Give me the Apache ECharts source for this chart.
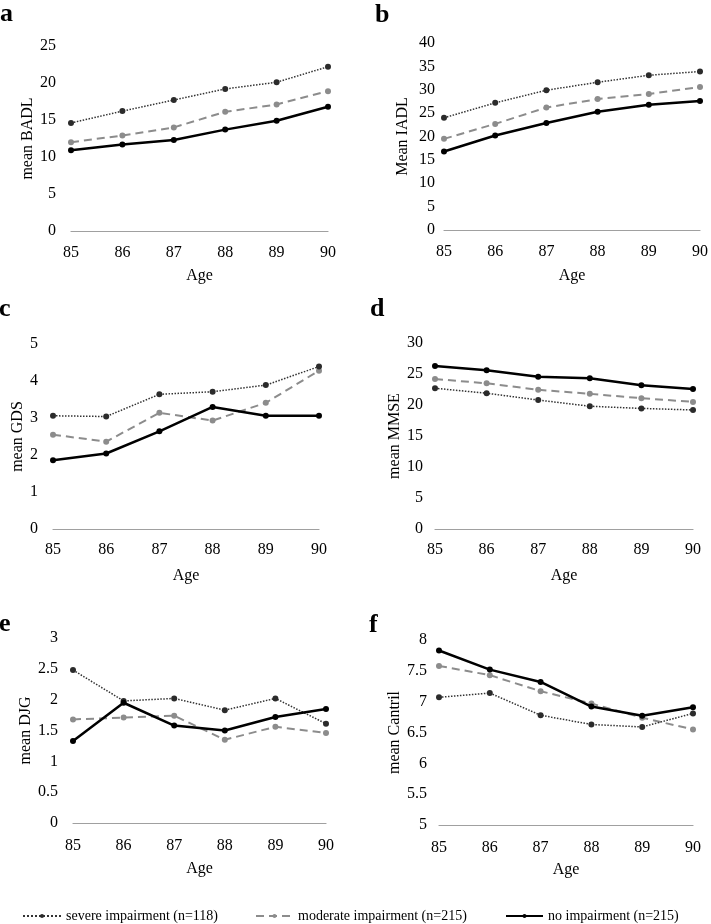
<!DOCTYPE html>
<html><head><meta charset="utf-8">
<script src="https://cdn.jsdelivr.net/npm/echarts@6/dist/echarts.min.js"></script>
<style>html,body{margin:0;padding:0;background:#fff}#c{width:711px;height:924px}</style>
</head><body><div id="c"></div>
<script>
const ages = ['85','86','87','88','89','90'];
const seriesNames = ['severe impairment (n=118)','moderate impairment (n=215)','no impairment (n=215)'];

const badlSevere   = [14.6, 16.2, 17.7, 19.2, 20.1, 22.2];
const badlModerate = [12.0, 12.9, 14.0, 16.1, 17.1, 18.9];
const badlNone     = [10.9, 11.7, 12.3, 13.7, 14.9, 16.8];

const iadlSevere   = [24.0, 27.2, 29.9, 31.6, 33.1, 33.9];
const iadlModerate = [19.5, 22.7, 26.2, 28.0, 29.1, 30.6];
const iadlNone     = [16.8, 20.2, 22.9, 25.3, 26.8, 27.6];

const gdsSevere    = [3.06, 3.04, 3.64, 3.71, 3.89, 4.39];
const gdsModerate  = [2.55, 2.36, 3.14, 2.93, 3.41, 4.28];
const gdsNone      = [1.86, 2.04, 2.64, 3.30, 3.06, 3.06];

const mmseSevere   = [22.7, 21.9, 20.8, 19.8, 19.45, 19.2];
const mmseModerate = [24.2, 23.5, 22.45, 21.8, 21.1, 20.5];
const mmseNone     = [26.3, 25.6, 24.55, 24.3, 23.2, 22.6];

const djgSevere    = [2.48, 1.98, 2.02, 1.83, 2.02, 1.61];
const djgModerate  = [1.68, 1.71, 1.74, 1.35, 1.56, 1.46];
const djgNone      = [1.33, 1.95, 1.58, 1.50, 1.72, 1.85];

const cantrilSevere   = [7.07, 7.14, 6.78, 6.63, 6.59, 6.81];
const cantrilModerate = [7.58, 7.43, 7.17, 6.97, 6.74, 6.55];
const cantrilNone     = [7.83, 7.52, 7.32, 6.92, 6.77, 6.91];

const panels = [
  {letter:'a', yName:'mean BADL', min:0, max:25, interval:5, data:[badlSevere,badlModerate,badlNone],
   grid:{left:71,top:46,width:257,height:185}, lx:7, ly:17, nameGap:28, ylMargin:15, xlMargin:14, xNameGap:37},
  {letter:'b', yName:'Mean IADL', min:0, max:40, interval:5, data:[iadlSevere,iadlModerate,iadlNone],
   grid:{left:444,top:43,width:258,height:187}, lx:382, ly:18, nameGap:33, ylMargin:9, xlMargin:14, xNameGap:38},
  {letter:'c', yName:'mean GDS', min:0, max:5, interval:1, data:[gdsSevere,gdsModerate,gdsNone],
   grid:{left:53,top:344,width:266,height:185}, lx:6, ly:312, nameGap:26, ylMargin:15, xlMargin:13, xNameGap:39},
  {letter:'d', yName:'mean MMSE', min:0, max:30, interval:5, data:[mmseSevere,mmseModerate,mmseNone],
   grid:{left:435,top:343,width:258,height:186}, lx:377, ly:312, nameGap:30, ylMargin:12, xlMargin:13, xNameGap:39},
  {letter:'e', yName:'mean DJG', min:0, max:3, interval:0.5, data:[djgSevere,djgModerate,djgNone],
   grid:{left:73,top:638,width:253,height:185}, lx:6, ly:627, nameGap:35, ylMargin:15, xlMargin:15, xNameGap:38},
  {letter:'f', yName:'mean Cantril', min:5, max:8, interval:0.5, data:[cantrilSevere,cantrilModerate,cantrilNone],
   grid:{left:439,top:640,width:254,height:185}, lx:376, ly:628, nameGap:32, ylMargin:12, xlMargin:15, xNameGap:37}
];

const FONT = '"Liberation Serif","Times New Roman",serif';
const styles = [
  {line:{type:'dotted', width:1.5, color:'#333'}, item:{color:'#2b2b2b'}, z:3},
  {line:{type:[8,5], width:2, color:'#8c8c8c'}, item:{color:'#8c8c8c'}, z:2},
  {line:{type:'solid', width:2.5, color:'#000'}, item:{color:'#000'}, z:4}
];

const grid = [], xAxis = [], yAxis = [], series = [], graphic = [];
panels.forEach((p, i) => {
  grid.push(p.grid);
  xAxis.push({
    type:'category', gridIndex:i, data:ages, boundaryGap:false,
    name:'Age', nameLocation:'middle', nameGap:p.xNameGap,
    nameTextStyle:{fontFamily:FONT, fontSize:16, color:'#000'},
    axisLine:{lineStyle:{color:'#a0a0a0', width:1.2}},
    axisTick:{show:false},
    axisLabel:{fontFamily:FONT, fontSize:16, color:'#000', margin:p.xlMargin},
    splitLine:{show:false}
  });
  yAxis.push({
    type:'value', gridIndex:i, min:p.min, max:p.max, interval:p.interval,
    name:p.yName, nameLocation:'middle', nameRotate:90, nameGap:p.nameGap,
    nameTextStyle:{fontFamily:FONT, fontSize:16, color:'#000'},
    axisLine:{show:false}, axisTick:{show:false},
    axisLabel:{fontFamily:FONT, fontSize:16, color:'#000', margin:p.ylMargin},
    splitLine:{show:false}
  });
  p.data.forEach((d, k) => {
    series.push({
      name:seriesNames[k], type:'line', xAxisIndex:i, yAxisIndex:i, data:d,
      symbol:'circle', symbolSize:6, showSymbol:true,
      lineStyle:styles[k].line, itemStyle:styles[k].item, z:styles[k].z,
      animation:false
    });
  });
  graphic.push({type:'text', left:p.lx-7, top:p.ly-16,
    style:{text:p.letter, font:'bold 26px "Liberation Serif", serif', fill:'#000'}});
});

const legendLefts = [17, 250, 500];
const legendWidths = [38, 37, 37];
const legend = seriesNames.map((n, k) => ({
  data:[n], left:legendLefts[k], top:904, itemWidth:legendWidths[k], itemHeight:5, itemGap:4,
  textStyle:{fontFamily:FONT, fontSize:14, color:'#000'}, selectedMode:false
}));

const chart = echarts.init(document.getElementById('c'), null, {renderer:'canvas'});
chart.setOption({animation:false, backgroundColor:'#fff', grid, xAxis, yAxis, series, legend, graphic});
</script></body></html>
